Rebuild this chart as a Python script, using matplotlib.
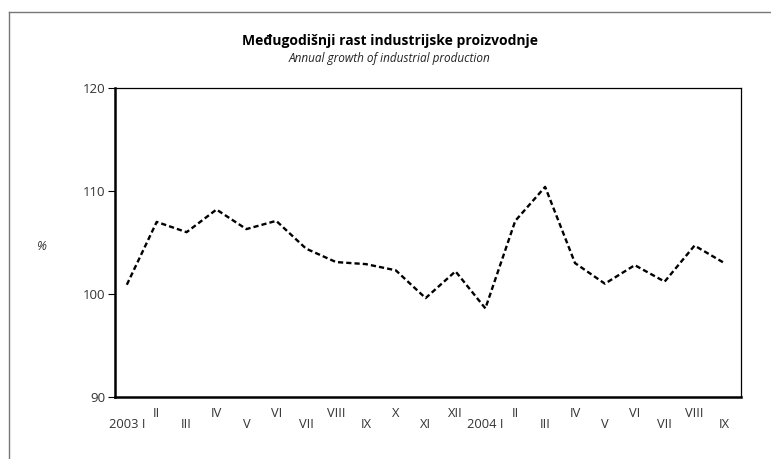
import matplotlib
matplotlib.use("Agg")
import matplotlib.pyplot as plt
from matplotlib.lines import Line2D

# monthly labels, Jan 2003 - Sep 2004
months = ["2003 I", "II", "III", "IV", "V", "VI", "VII", "VIII", "IX", "X", "XI", "XII",
          "2004 I", "II", "III", "IV", "V", "VI", "VII", "VIII", "IX"]
growth = [100.9, 107.0, 106.0, 108.2, 106.3, 107.1, 104.4, 103.1, 102.9, 102.3, 99.6, 102.2,
          98.6, 107.1, 110.4, 103.0, 101.0, 102.8, 101.2, 104.7, 103.0]
y_ticks = [90, 100, 110, 120]

plt.rcParams['font.family'] = ['Open Sans', 'DejaVu Sans']

fig = plt.figure(figsize=(7.71, 4.59), dpi=100)
ax = fig.add_axes([0.149, 0.1351, 0.8115, 0.6732])

x = list(range(len(months)))
ax.plot(x, growth, color='black', lw=1.7, linestyle=(0, (2.2, 1.3)))

ax.set_xlim(-0.4, len(months) - 1 + 0.54)
ax.set_ylim(90, 120)
ax.set_yticks(y_ticks)
ax.set_yticklabels([str(v) for v in y_ticks], fontsize=9.5, color='#333333')
ax.tick_params(axis='y', length=5, width=0.8, pad=2)

# two rows of month labels: even months lower, odd months upper
ax.set_xticks(x[0::2])
ax.set_xticklabels(months[0::2], fontsize=9.3, color='#333333')
ax.set_xticks(x[1::2], minor=True)
ax.set_xticklabels(months[1::2], minor=True, fontsize=9.3, color='#333333')
ax.tick_params(axis='x', which='major', length=0, pad=15)
ax.tick_params(axis='x', which='minor', length=0, pad=7)

ax.spines['left'].set_linewidth(1.8)
ax.spines['bottom'].set_linewidth(1.8)
ax.spines['top'].set_linewidth(0.9)
ax.spines['right'].set_linewidth(0.9)

fig.text(0.5055, 0.9106, "Međugodišnji rast industrijske proizvodnje",
         ha='center', va='center', fontsize=10, fontweight='bold')
fig.text(0.5055, 0.8736, "Annual growth of industrial production",
         ha='center', va='center', fontsize=8.5, style='italic', color='#222222')
fig.text(0.0545, 0.464, "%", ha='center', va='center', fontsize=9, style='italic',
         color='#333333')

# outer frame: only left and top edges are inside the picture
fx, fy = 9 / 771, 1 - 12 / 459
fig.lines.append(Line2D([fx, fx], [0, fy], transform=fig.transFigure,
                        color='#777777', lw=1))
fig.lines.append(Line2D([fx, 1], [fy, fy], transform=fig.transFigure,
                        color='#777777', lw=1))

fig.savefig("out.png", dpi=100)
